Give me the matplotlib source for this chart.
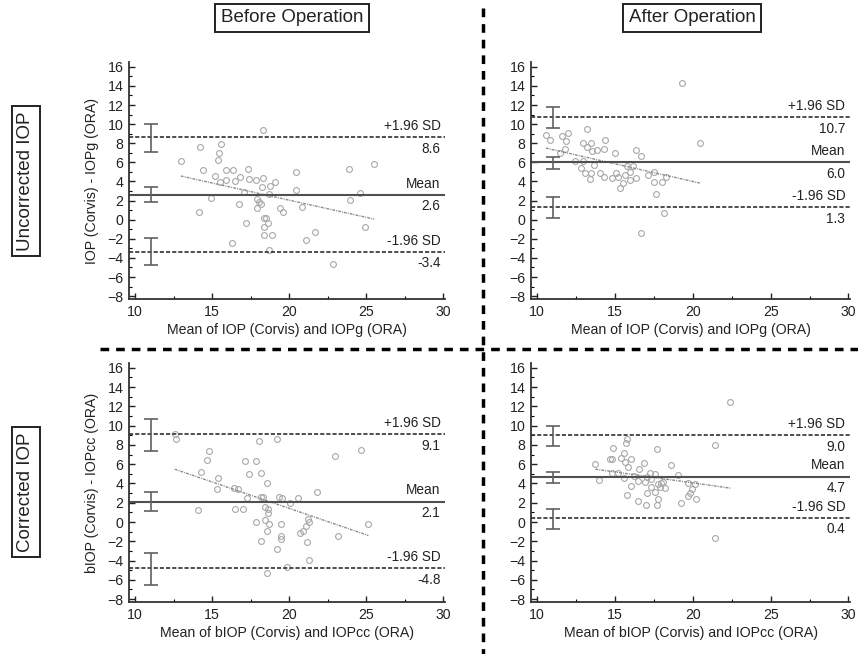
import numpy as np
import matplotlib
matplotlib.use("Agg")
import matplotlib.pyplot as plt
from matplotlib.lines import Line2D

plt.rcParams['font.family'] = ['Liberation Sans', 'DejaVu Sans']

# ---- data ----
# top-left: uncorrected, before operation
tl_x = [12.96, 14.19, 14.13, 14.43, 14.89, 15.19, 15.38, 15.47, 15.55, 15.49, 15.89, 15.89, 16.36,
        16.47, 16.77, 16.74, 16.26, 17.19, 17.04, 17.32, 17.36, 17.85, 17.89, 17.89, 18.04, 18.19,
        18.28, 18.32, 18.26, 18.36, 18.47, 18.36, 18.64, 18.34, 18.85, 18.68, 18.70, 18.74, 19.04,
        19.38, 19.60, 20.45, 20.45, 20.85, 21.11, 21.68, 22.83, 23.85, 23.94, 24.57, 24.91, 25.51]
tl_y = [6.15, 7.6, 0.8, 5.2, 2.3, 4.6, 6.2, 7.0, 7.9, 3.9, 5.2, 4.2, 5.2,
        4.0, 4.5, 1.6, -2.4, -0.3, 2.9, 5.3, 4.3, 4.2, 2.2, 1.2, 1.9, 1.6,
        9.4, 4.4, 3.4, 0.2, 0.2, -0.75, -0.3, -1.6, -1.6, -3.2, 2.65, 3.55, 3.9,
        1.2, 0.8, 5.0, 3.1, 1.35, -2.15, -1.3, -4.65, 5.3, 2.1, 2.8, -0.8, 5.8]

# top-right: uncorrected, after operation
tr_x = [10.55, 10.85, 11.6, 11.87, 12.0, 11.77, 11.49, 12.4, 12.83, 12.94, 12.94, 13.17, 13.21,
        13.47, 13.49, 13.06, 13.38, 13.45, 13.64, 13.83, 14.02, 14.3, 14.34, 14.3, 14.81, 14.98,
        15.06, 15.19, 15.32, 15.51, 15.62, 15.74, 15.96, 15.96, 16.17, 16.32, 16.34, 16.64, 16.7,
        17.11, 17.51, 17.51, 17.64, 18.02, 18.15, 18.28, 19.3, 20.45]
tr_y = [8.87, 8.37, 8.76, 8.27, 9.08, 7.42, 6.96, 6.18, 5.37, 6.18, 8.06, 9.54, 7.6,
        8.02, 7.14, 4.84, 4.28, 4.91, 5.72, 7.31, 4.84, 7.38, 8.3, 4.42, 4.38, 7.0,
        4.88, 4.42, 3.32, 3.85, 4.7, 5.65, 4.13, 5.02, 5.58, 4.38, 7.24, 6.64, -1.41,
        4.66, 4.98, 3.96, 2.72, 3.96, 0.67, 4.42, 14.35, 7.99]

# bottom-left: corrected, before operation
bl_x = [12.57, 12.68, 14.06, 14.26, 14.68, 14.81, 15.34, 15.38, 16.38, 16.66, 16.47, 16.98, 17.15,
        17.26, 17.36, 17.85, 17.85, 18.02, 18.15, 18.19, 18.15, 18.3, 18.43, 18.45, 18.53, 18.55,
        18.6, 18.6, 18.68, 18.57, 19.17, 19.23, 19.34, 19.53, 19.43, 19.45, 19.43, 19.87, 20.04,
        20.57, 20.68, 20.91, 21.1, 21.19, 21.26, 21.17, 21.3, 21.77, 22.94, 23.15, 24.68, 25.13]
bl_y = [9.17, 8.65, 1.23, 5.23, 6.4, 7.32, 3.43, 4.52, 3.54, 3.43, 1.33, 1.33, 6.38,
        2.47, 5.0, 0.0, 6.35, 8.4, 5.04, -1.93, 2.63, 2.63, 1.58, 0.2, 4.07, -5.33,
        1.4, 0.91, -0.23, -0.97, -2.82, 8.58, 2.6, 2.5, -0.2, -1.43, -1.79, -4.66, 2.02,
        2.52, -1.15, -0.94, -0.41, 0.27, -0.05, -2.04, -3.92, 3.12, 6.88, -1.43, 7.5, -0.16]

# bottom-right: corrected, after operation
br_x = [13.74, 13.96, 14.68, 14.79, 14.87, 14.83, 15.21, 15.55, 15.38, 15.57, 15.66, 15.74, 15.7,
        15.77, 15.85, 16.0, 16.04, 16.21, 16.45, 16.49, 16.57, 16.87, 16.91, 16.96, 17.06, 17.04,
        17.26, 17.34, 17.32, 17.57, 17.57, 17.7, 17.68, 17.77, 17.79, 17.87, 17.96, 18.06, 18.19,
        18.57, 19.06, 19.26, 19.66, 19.66, 19.79, 19.94, 20.15, 20.23, 21.43, 21.45, 22.38]
br_y = [6.02, 4.34, 6.59, 6.49, 7.64, 5.09, 5.05, 4.59, 6.67, 7.18, 6.21, 8.61, 8.25,
        2.77, 5.67, 6.53, 3.7, 4.81, 2.19, 4.28, 5.53, 6.1, 4.13, 1.79, 4.67, 3.06,
        5.09, 3.66, 4.45, 5.02, 3.09, 7.54, 1.79, 3.95, 2.34, 3.63, 4.06, 4.17, 3.49,
        5.95, 4.84, 1.97, 4.06, 2.7, 2.98, 3.41, 3.95, 2.37, 7.99, -1.71, 12.48]

# mean, +1.96 SD, -1.96 SD
tl_lim = [2.6, 8.6, -3.4]
tr_lim = [6.0, 10.7, 1.3]
bl_lim = [2.1, 9.1, -4.8]
br_lim = [4.7, 9.0, 0.4]

# confidence intervals of the limits: (low, high) for upper SD, mean, lower SD
tl_ci = [(7.1, 9.97), (1.84, 3.45), (-4.7, -1.9)]
tr_ci = [(9.58, 11.8), (5.34, 6.6), (0.18, 2.37)]
bl_ci = [(7.4, 10.72), (1.16, 3.07), (-6.5, -3.17)]
br_ci = [(7.92, 10.0), (4.09, 5.23), (-0.7, 1.37)]

# regression line end points
tl_reg = [(12.96, 25.51), (4.57, 0.06)]
tr_reg = [(10.55, 20.49), (7.49, 3.82)]
bl_reg = [(12.57, 25.13), (5.48, -1.4)]
br_reg = [(13.74, 22.43), (5.48, 3.51)]

xlab_top = "Mean of IOP (Corvis) and IOPg (ORA)"
xlab_bot = "Mean of bIOP (Corvis) and IOPcc (ORA)"
ylab_top = "IOP (Corvis) - IOPg (ORA)"
ylab_bot = "bIOP (Corvis) - IOPcc (ORA)"

W, H = 858, 654
fig = plt.figure(figsize=(W / 100, H / 100), dpi=100)

def ax_at(l, r, t, b):
    return fig.add_axes([l / W, 1 - b / H, (r - l) / W, (b - t) / H])

def panel(ax, x, y, lim, ci, reg, xlab, ylab=None):
    ax.plot(x, y, 'o', ms=4.2, mfc='none', mec='#a8a8a8', mew=0.8)
    ax.plot(reg[0], reg[1], color='#8a8a8a', lw=1.0, ls=(0, (2, 0.8, 0.7, 0.8)))
    ax.axhline(lim[0], color='#505050', lw=1.5)
    ax.axhline(lim[1], color='#303030', lw=1.2, ls=(0, (2.5, 1.2)))
    ax.axhline(lim[2], color='#303030', lw=1.2, ls=(0, (2.5, 1.2)))
    for lo, hi in ci:
        ax.errorbar(11, (lo + hi) / 2, yerr=(hi - lo) / 2, color='#606060', lw=1.2,
                    capsize=5, capthick=1.2)
    off = 0.45
    fs = 9.8
    ax.text(29.8, lim[1] + off, "+1.96 SD", ha='right', va='bottom', fontsize=fs, color='#222')
    ax.text(29.8, lim[1] - off, "%.1f" % lim[1], ha='right', va='top', fontsize=fs, color='#222')
    ax.text(29.8, lim[0] + off, "Mean", ha='right', va='bottom', fontsize=fs, color='#222')
    ax.text(29.8, lim[0] - off, "%.1f" % lim[0], ha='right', va='top', fontsize=fs, color='#222')
    ax.text(29.8, lim[2] + off, "-1.96 SD", ha='right', va='bottom', fontsize=fs, color='#222')
    ax.text(29.8, lim[2] - off, "%.1f" % lim[2], ha='right', va='top', fontsize=fs, color='#222')
    ax.set_xlim(9.6, 30.1)
    ax.set_ylim(-8.3, 16.5)
    ax.set_xticks([10, 15, 20, 25, 30])
    ax.set_xticks([12.5, 17.5, 22.5, 27.5], minor=True)
    ax.set_yticks(np.arange(-8, 17, 2))
    ax.set_yticks(np.arange(-7, 17, 2), minor=True)
    ax.tick_params(direction='in', labelsize=10.2, colors='#222', width=1, length=4, pad=4)
    ax.tick_params(which='minor', direction='in', length=2.5, width=0.8)
    for s in ['top', 'right']:
        ax.spines[s].set_visible(False)
    for s in ['left', 'bottom']:
        ax.spines[s].set_linewidth(1.3)
        ax.spines[s].set_color('#333')
    ax.set_xlabel(xlab, fontsize=10.2, color='#222', labelpad=3)
    if ylab:
        ax.set_ylabel(ylab, fontsize=10.2, color='#222', labelpad=6)

ax1 = ax_at(129, 445, 62, 299)
ax2 = ax_at(531, 850, 62, 299)
ax3 = ax_at(129, 445, 363, 602)
ax4 = ax_at(531, 850, 363, 602)
panel(ax1, tl_x, tl_y, tl_lim, tl_ci, tl_reg, xlab_top, ylab_top)
panel(ax2, tr_x, tr_y, tr_lim, tr_ci, tr_reg, xlab_top)
panel(ax3, bl_x, bl_y, bl_lim, bl_ci, bl_reg, xlab_bot, ylab_bot)
panel(ax4, br_x, br_y, br_lim, br_ci, br_reg, xlab_bot)

# dividers
fig.add_artist(Line2D([483 / W, 483 / W], [1 - 8 / H, 0], color='black', lw=2.5,
                      ls=(0, (2.5, 2))))
fig.add_artist(Line2D([100 / W, 1], [1 - 349 / H, 1 - 349 / H], color='black', lw=2.5,
                      ls=(0, (2.5, 2))))

box = dict(boxstyle='square,pad=0.3', fc='white', ec='#222', lw=1.4)
fig.text(292 / W, 1 - 18 / H, "Before Operation", ha='center', va='center', fontsize=13.5,
         color='#222', bbox=box)
fig.text(692 / W, 1 - 18 / H, "After Operation", ha='center', va='center', fontsize=13.5,
         color='#222', bbox=box)
fig.text(26 / W, 1 - 181 / H, "Uncorrected IOP", ha='center', va='center', fontsize=13.5,
         color='#222', rotation=90, bbox=box)
fig.text(26 / W, 1 - 492 / H, "Corrected IOP", ha='center', va='center', fontsize=13.5,
         color='#222', rotation=90, bbox=box)

fig.savefig("out.png", dpi=100)
